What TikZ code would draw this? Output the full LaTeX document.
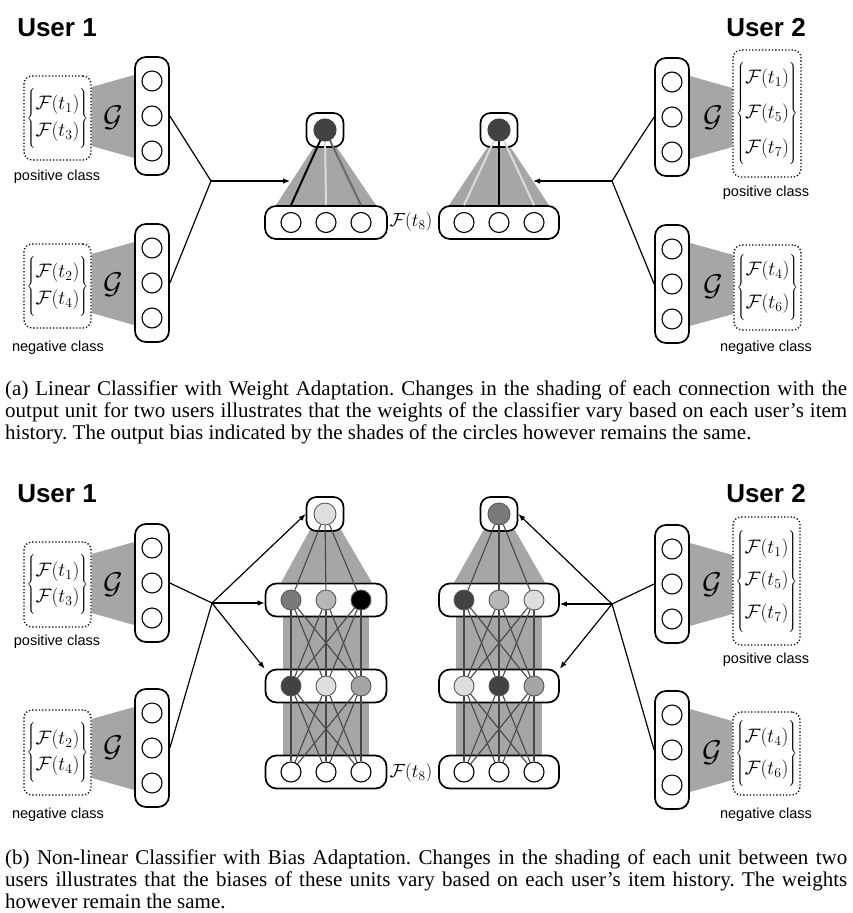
\RequirePackage{fix-cm}
\documentclass[tikz,border=0pt]{standalone}
\usepackage{fontspec}
\newfontfamily\labelfont{Liberation Sans}
\newfontfamily\capfont{Liberation Serif}
\usetikzlibrary{arrows.meta, calc}
\definecolor{linkgray}{RGB}{164, 167, 166}
\definecolor{unitblack}{RGB}{0, 0, 0}
\definecolor{unitdark}{RGB}{66, 66, 66}
\definecolor{unitmid}{RGB}{122, 122, 122}
\definecolor{unitgray}{RGB}{165, 165, 165}
\definecolor{unitsilver}{RGB}{182, 182, 182}
\definecolor{unitlight}{RGB}{222, 222, 224}
\pgfdeclarelayer{shade}
\pgfdeclarelayer{frame}
\pgfdeclarelayer{wire}
\pgfsetlayers{shade,frame,wire,main}
\tikzset{
  % texts
  usertitle/.style={font=\labelfont\bfseries\fontsize{26}{26}\selectfont, inner sep=0pt},
  classlabel/.style={font=\labelfont\fontsize{14.5}{14.5}\selectfont, inner sep=0pt},
  mapname/.style={font=\fontsize{30}{30}\selectfont, inner sep=0pt},
  histlabel/.style={font=\fontsize{19}{22}\selectfont, inner sep=0pt},
  caption/.style={font=\capfont\fontsize{21}{22}\selectfont\frenchspacing,
    inner sep=0pt, anchor=north west, align=left},
  %
  % item history sets (dotted)
  histbox/.style={draw, dotted, line width=1.3pt, rounded corners=8pt,
    minimum width=67pt, inner sep=1pt, font=\fontsize{19.5}{23.4}\selectfont},
  %
  % unit groups
  unitcol/.style={draw, line width=1.7pt, rounded corners=11pt, fill=white,
    minimum width=34pt, minimum height=118pt, inner sep=0pt},
  unitrow/.style={draw, line width=1.7pt, rounded corners=11pt, fill=white,
    minimum width=121pt, minimum height=33pt, inner sep=0pt},
  unitcap/.style={draw, line width=1.7pt, rounded corners=10pt, fill=white,
    minimum width=37pt, minimum height=34pt, inner sep=0pt},
  %
  % units
  unit/.style={circle, draw, line width=1.1pt, fill=white,
    minimum size=20pt, inner sep=0pt},
  unit shaded/.style={unit, draw=black!65, line width=0.9pt},
  %
  % weights of the linear classifier (shade = weight)
  strong weight/.style={draw=black, line width=2pt},
  mid weight/.style={draw=black!58, line width=2pt},
  faint weight/.style={draw=black!14, line width=2pt},
  wire/.style={draw=black!72, line width=1.1pt},
  %
  % user connectors
  jline/.style={line width=1.2pt},
  jarrow/.style={jline, -{Latex[length=7pt, width=5.5pt]}},
}

\begin{document}
\begin{tikzpicture}[x=1pt, y=-1pt]
  \useasboundingbox (0,0) rectangle (852,913);

  %% ── Panel (a) ─────────────────────────────────────────────────────────
  \node[usertitle] (uA1) at (57,28)  {User 1};
  \node[usertitle] (uA2) at (766,28) {User 2};

  %% item histories (the rule sets the brace height)
  \node[histbox, minimum height=84pt] (hpA1) at (57.5,118)
    {$\left\{\rule[-27pt]{0pt}{64pt}\begin{array}{@{}c@{}}\mathcal{F}(t_1)\\[3.6pt]\mathcal{F}(t_3)\end{array}\right\}$};
  \node[histbox, minimum height=84pt] (hnA1) at (57.5,286)
    {$\left\{\rule[-27pt]{0pt}{64pt}\begin{array}{@{}c@{}}\mathcal{F}(t_2)\\[3.6pt]\mathcal{F}(t_4)\end{array}\right\}$};
  \node[histbox, minimum height=127pt, minimum width=68pt] (hpA2) at (767,113.5)
    {$\left\{\rule[-47pt]{0pt}{104pt}\begin{array}{@{}c@{}}\mathcal{F}(t_1)\\[11.6pt]\mathcal{F}(t_5)\\[11.6pt]\mathcal{F}(t_7)\end{array}\right\}$};
  \node[histbox, minimum height=85pt] (hnA2) at (767.5,287.5)
    {$\left\{\rule[-28pt]{0pt}{66pt}\begin{array}{@{}c@{}}\mathcal{F}(t_4)\\[9.6pt]\mathcal{F}(t_6)\end{array}\right\}$};

  \node[classlabel] (cpA1) at (57,177)  {positive class};
  \node[classlabel] (cnA1) at (58,348)  {negative class};
  \node[classlabel] (cpA2) at (766,193) {positive class};
  \node[classlabel] (cnA2) at (766,348) {negative class};

  \node[mapname] (gA1) at (113,118) {$\mathcal{G}$};
  \node[mapname] (gA2) at (113,285) {$\mathcal{G}$};
  \node[mapname] (gA3) at (713,118) {$\mathcal{G}$};
  \node[mapname] (gA4) at (713,287) {$\mathcal{G}$};

  %% ── Panel (b) ─────────────────────────────────────────────────────────
  \node[usertitle] (uB1) at (57,494)  {User 1};
  \node[usertitle] (uB2) at (766,494) {User 2};

  \node[histbox, minimum height=85pt] (hpB1) at (57.5,584.5)
    {$\left\{\rule[-27pt]{0pt}{64pt}\begin{array}{@{}c@{}}\mathcal{F}(t_1)\\[2.6pt]\mathcal{F}(t_3)\end{array}\right\}$};
  \node[histbox, minimum height=85pt] (hnB1) at (57.5,752.5)
    {$\left\{\rule[-27pt]{0pt}{64pt}\begin{array}{@{}c@{}}\mathcal{F}(t_2)\\[2.6pt]\mathcal{F}(t_4)\end{array}\right\}$};
  \node[histbox, minimum height=128pt] (hpB2) at (766.5,581)
    {$\left\{\rule[-47pt]{0pt}{104pt}\begin{array}{@{}c@{}}\mathcal{F}(t_1)\\[9pt]\mathcal{F}(t_5)\\[9pt]\mathcal{F}(t_7)\end{array}\right\}$};
  \node[histbox, minimum height=83pt] (hnB2) at (766.5,753.5)
    {$\left\{\rule[-28pt]{0pt}{66pt}\begin{array}{@{}c@{}}\mathcal{F}(t_4)\\[8.6pt]\mathcal{F}(t_6)\end{array}\right\}$};

  \node[classlabel] (cpB1) at (57,642)  {positive class};
  \node[classlabel] (cnB1) at (58,815)  {negative class};
  \node[classlabel] (cpB2) at (766,660) {positive class};
  \node[classlabel] (cnB2) at (766,815) {negative class};

  \node[mapname] (gB1) at (113,585) {$\mathcal{G}$};
  \node[mapname] (gB2) at (113,748) {$\mathcal{G}$};
  \node[mapname] (gB3) at (712,585) {$\mathcal{G}$};
  \node[mapname] (gB4) at (712,753) {$\mathcal{G}$};

  %% ── Unit groups ───────────────────────────────────────────────────────
  \begin{pgfonlayer}{frame}
    \node[unitcol] (colA1) at (152,116) {};
    \node[unitcol] (colA2) at (152,283) {};
    \node[unitcol] (colA3) at (672,117) {};
    \node[unitcol] (colA4) at (672,284) {};
    \node[unitcol] (colB1) at (152,583) {};
    \node[unitcol] (colB2) at (152,748) {};
    \node[unitcol] (colB3) at (672,584) {};
    \node[unitcol] (colB4) at (672,750) {};

    \node[unitcap] (outA1) at (325,130) {};
    \node[unitrow, minimum width=122pt] (inA1) at (326,222.5) {};
    \node[unitcap] (outA2) at (499,130) {};
    \node[unitrow, minimum width=120pt] (inA2) at (499,222.5) {};

    \node[unitcap] (outB1) at (325,514) {};
    \node[unitrow] (midB1) at (326,600) {};
    \node[unitrow] (lmB1)  at (326,686) {};
    \node[unitrow] (inB1)  at (326,772) {};
    \node[unitcap] (outB2) at (499,514) {};
    \node[unitrow, minimum width=120pt] (midB2) at (499,600) {};
    \node[unitrow, minimum width=120pt] (lmB2)  at (499,686) {};
    \node[unitrow, minimum width=120pt] (inB2)  at (499,772) {};
  \end{pgfonlayer}

  %% embedding units
  \foreach \c in {colA1, colA2, colA3, colA4, colB1, colB2, colB3, colB4}
    \foreach \k in {1,2,3}
      \node[unit] (\c u\k) at ($(\c)+(0,35*\k-70)$) {};

  %% input units
  \foreach \r in {inA1, inA2, inB1, inB2}
    \foreach \k in {1,2,3}
      \node[unit] (\r u\k) at ($(\r)+(35*\k-70,0)$) {};

  %% output and hidden units (shade = bias)
  \node[unit, fill=unitdark, draw=unitdark, minimum size=22pt] (oA1) at (outA1) {};
  \node[unit, fill=unitdark, draw=unitdark, minimum size=22pt] (oA2) at (outA2) {};
  \node[unit shaded, fill=unitlight, minimum size=22pt] (oB1) at (outB1) {};
  \node[unit shaded, fill=unitmid,   minimum size=22pt] (oB2) at (outB2) {};
  \foreach \k/\f in {1/unitmid, 2/unitsilver, 3/unitblack}
    \node[unit shaded, fill=\f] (midB1u\k) at ($(midB1)+(35*\k-70,0)$) {};
  \foreach \k/\f in {1/unitdark, 2/unitlight, 3/unitgray}
    \node[unit shaded, fill=\f] (lmB1u\k) at ($(lmB1)+(35*\k-70,0)$) {};
  \foreach \k/\f in {1/unitdark, 2/unitsilver, 3/unitlight}
    \node[unit shaded, fill=\f] (midB2u\k) at ($(midB2)+(35*\k-70,0)$) {};
  \foreach \k/\f in {1/unitlight, 2/unitdark, 3/unitgray}
    \node[unit shaded, fill=\f] (lmB2u\k) at ($(lmB2)+(35*\k-70,0)$) {};

  \node[histlabel] (fA) at (411,222) {$\mathcal{F}(t_8)$};
  \node[histlabel] (fB) at (411,773) {$\mathcal{F}(t_8)$};

  %% ── Gray shading behind the mappings ──────────────────────────────────
  \begin{pgfonlayer}{shade}
    \foreach \h/\c in {hpA1/colA1, hnA1/colA2, hpB1/colB1, hnB1/colB2}
      \fill[linkgray] ($(\c.west -| \h.east)+(0,-29)$) -- ($(\c.west)+(0,-41)$)
        -- ($(\c.west)+(0,42)$) -- ($(\c.west -| \h.east)+(0,30)$) -- cycle;
    \foreach \h/\c in {hpA2/colA3, hnA2/colA4, hpB2/colB3, hnB2/colB4}
      \fill[linkgray] ($(\c.east -| \h.west)+(0,-29)$) -- ($(\c.east)+(0,-41)$)
        -- ($(\c.east)+(0,42)$) -- ($(\c.east -| \h.west)+(0,30)$) -- cycle;
    \foreach \o/\r in {oA1/inA1, oA2/inA2}
      \fill[linkgray] (\o.center) -- ($(\r.north)+(-50,0)$)
        -- ($(\r.north)+(50,0)$) -- cycle;
    \foreach \o/\m/\r in {oB1/midB1/inB1, oB2/midB2/inB2} {
      \fill[linkgray] (\o.north) -- ($(\m.north)+(-45,0)$)
        -- ($(\m.north)+(46,0)$) -- cycle;
      \fill[linkgray] ($(\m.center)+(-43,0)$) rectangle ($(\r.center)+(43,0)$);
    }
  \end{pgfonlayer}

  %% ── Weights ───────────────────────────────────────────────────────────
  \begin{pgfonlayer}{wire}
    \foreach \k/\w in {1/strong weight, 2/faint weight, 3/mid weight}
      \draw[\w] (oA1.center) -- (inA1u\k |- inA1.north);
    \foreach \k/\w in {1/faint weight, 2/strong weight, 3/faint weight}
      \draw[\w] (oA2.center) -- (inA2u\k |- inA2.north);
    \foreach \n in {B1, B2} {
      \foreach \k in {1,2,3}
        \draw[wire] (o\n) -- (mid\n u\k);
      \foreach \i in {1,2,3}
        \foreach \k in {1,2,3} {
          \draw[wire] (mid\n u\i) -- (lm\n u\k);
          \draw[wire] (lm\n u\i) -- (in\n u\k);
        }
    }
  \end{pgfonlayer}

  %% ── User connectors ───────────────────────────────────────────────────
  \coordinate (jA1) at (211,181);
  \coordinate (jA2) at (612,181);
  \coordinate (tA1) at (290,181);
  \coordinate (tA2) at (533,181);
  \coordinate (jB1) at (212,603);
  \coordinate (jB2) at (612,604);

  \draw[jline]  (colA1.east) -- (jA1) -- (colA2.east);
  \draw[jarrow] (jA1) -- (tA1);
  \draw[jline]  (colA3.west) -- (jA2) -- (colA4.west);
  \draw[jarrow] (jA2) -- (tA2);

  \draw[jline]  (colB1.east) -- (jB1) -- (colB2.east);
  \draw[jarrow] (jB1) -- (outB1.west);
  \draw[jarrow] (jB1) -- (jB1 -| midB1.west);
  \draw[jarrow] (jB1) -- (lmB1.north west);
  \draw[jline]  (colB3.west) -- (jB2) -- (colB4.west);
  \draw[jarrow] (jB2) -- (outB2.east);
  \draw[jarrow] (jB2) -- (jB2 -| midB2.east);
  \draw[jarrow] (jB2) -- (lmB2.north east);

  %% ── Captions ──────────────────────────────────────────────────────────
  \node[caption] (capA) at (5,381) {%
    \makebox[842pt][s]{(a) Linear Classifier with Weight Adaptation. Changes in the shading of each connection with the}\\
    \makebox[842pt][s]{output unit for two users illustrates that the weights of the classifier vary based on each user’s item}\\
    history. The output bias indicated by the shades of the circles however remains the same.};
  \node[caption] (capB) at (5,850) {%
    \makebox[842pt][s]{(b) Non-linear Classifier with Bias Adaptation. Changes in the shading of each unit between two}\\
    \makebox[842pt][s]{users illustrates that the biases of these units vary based on each user’s item history. The weights}\\
    however remain the same.};
\end{tikzpicture}
\end{document}
